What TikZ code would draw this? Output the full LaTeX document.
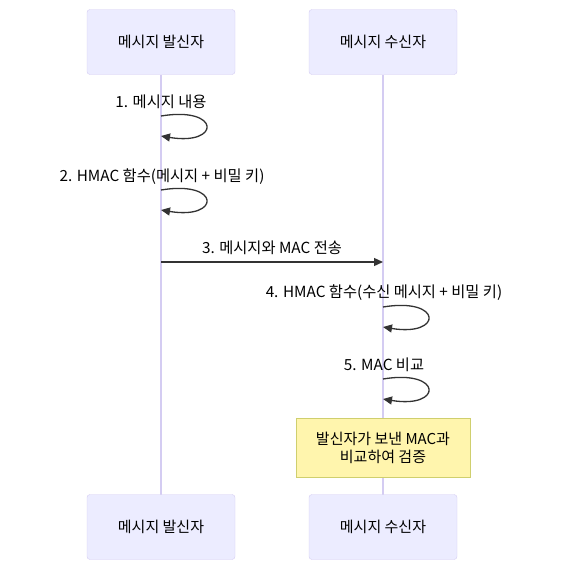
\documentclass[tikz,border=0pt]{standalone}
\usepackage{fontspec}
\setmainfont{Noto Sans CJK KR}
\usetikzlibrary{arrows.meta}
\definecolor{actorfill}{HTML}{ECECFF}
\definecolor{actorline}{HTML}{D4CCF2}
\definecolor{notefill}{HTML}{FFF5AD}
\definecolor{noteline}{HTML}{CFCF6E}
\definecolor{msgline}{HTML}{333333}
\tikzset{
	actor/.style={draw=actorline,fill=actorfill,rounded corners=3pt,minimum width=148pt,minimum height=65pt,font=\fontsize{15}{18}\selectfont},
	notebox/.style={draw=noteline,fill=notefill,minimum width=174pt,minimum height=59pt,align=center,font=\fontsize{15}{18}\selectfont},
	msgtext/.style={font=\fontsize{15.3}{18}\selectfont,text=black},
	msg/.style={draw=msgline,line width=1.3pt,-{Triangle[length=9pt,width=8pt]}},
	lifeline/.style={draw=actorline,line width=1.2pt}
}
\begin{document}
\begin{tikzpicture}[x=1pt,y=-1pt]
		\useasboundingbox (0,0) rectangle (572,579);
		\draw[lifeline] (161,75) -- (161,495);
		\draw[lifeline] (383,75) -- (383,495);
		\node[actor] (sendtop) at (161,42) {메시지 발신자};
		\node[actor] (recvtop) at (383,42) {메시지 수신자};
		\node[actor] (sendbot) at (161,527) {메시지 발신자};
		\node[actor] (recvbot) at (383,527) {메시지 수신자};
		
		\node[msgtext] (m1) at (161,102) {1. 메시지 내용};
		\coordinate (s1a) at (161,116);
		\coordinate (s1b) at (161,136);
		\draw[msg] (s1a) .. controls (221,106) and (221,146) .. (s1b);
		
		\node[msgtext] (m2) at (162,177) {2. HMAC 함수(메시지 + 비밀 키)};
		\coordinate (s2a) at (161,190);
		\coordinate (s2b) at (161,210);
		\draw[msg] (s2a) .. controls (221,180) and (221,220) .. (s2b);
		
		\node[msgtext] (m3) at (272,248) {3. 메시지와 MAC 전송};
		\coordinate (s3) at (161,262);
		\coordinate (r3) at (383,262);
		\draw[msg] (s3) -- (r3);
		
		\node[msgtext] (m4) at (384,293) {4. HMAC 함수(수신 메시지 + 비밀 키)};
		\coordinate (r4a) at (383,307);
		\coordinate (r4b) at (383,327);
		\draw[msg] (r4a) .. controls (443,297) and (443,337) .. (r4b);
		
		\node[msgtext] (m5) at (384,365) {5. MAC 비교};
		\coordinate (r5a) at (383,379);
		\coordinate (r5b) at (383,399);
		\draw[msg] (r5a) .. controls (443,369) and (443,409) .. (r5b);
		
		\node[notebox] (check) at (383,447.5) {발신자가 보낸 MAC과\\비교하여 검증};
\end{tikzpicture}
\end{document}
